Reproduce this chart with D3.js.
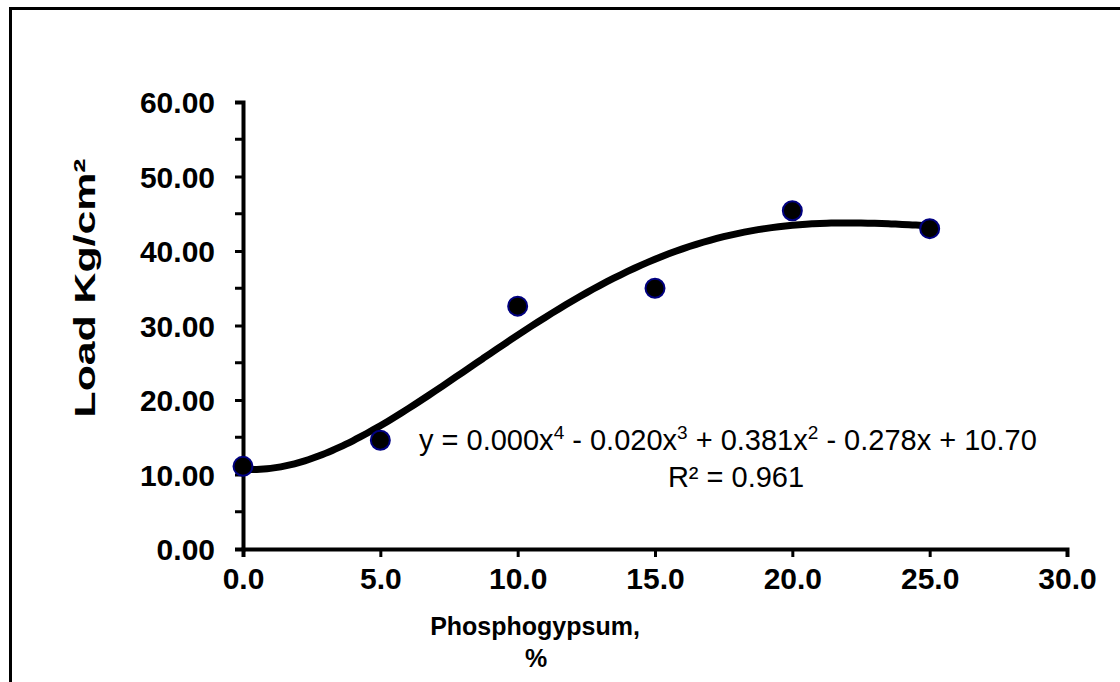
<!DOCTYPE html>
<html>
<head>
<meta charset="utf-8">
<script src="https://cdn.jsdelivr.net/npm/d3@7"></script>
<style>
  body { margin: 0; background: #fff; }
  svg { display: block; }
  text { font-family: "Liberation Sans", Arial, sans-serif; }
</style>
</head>
<body>
<div id="chart"></div>
<script>
var phosphogypsum = [0, 5, 10, 15, 20, 25];
var load = [11.1, 14.6, 32.6, 35.0, 45.4, 43.0];
var xTicks = [0, 5, 10, 15, 20, 25, 30];
var yTicks = [0, 10, 20, 30, 40, 50, 60];
var yMinorTicks = [5, 15, 25, 35, 45, 55];
var equationText = ["y = 0.000x", "4", " - 0.020x", "3", " + 0.381x", "2", " - 0.278x + 10.70"];
var r2Text = "R² = 0.961";

// least squares polynomial (order 4), like the Excel trendline
function polyFit(xs, ys, order) {
    var n = order + 1;
    var A = [], b = [];
    for (var i = 0; i < n; i++) {
        A.push([]);
        for (var j = 0; j < n; j++) {
            A[i].push(d3.sum(xs, function (x) { return Math.pow(x, i + j); }));
        }
        b.push(d3.sum(xs, function (x, k) { return ys[k] * Math.pow(x, i); }));
    }
    for (var c = 0; c < n; c++) {
        var p = c;
        for (var r = c + 1; r < n; r++) if (Math.abs(A[r][c]) > Math.abs(A[p][c])) p = r;
        var t = A[c]; A[c] = A[p]; A[p] = t;
        var tb = b[c]; b[c] = b[p]; b[p] = tb;
        for (var r2 = c + 1; r2 < n; r2++) {
            var f = A[r2][c] / A[c][c];
            for (var k = c; k < n; k++) A[r2][k] -= f * A[c][k];
            b[r2] -= f * b[c];
        }
    }
    var coef = new Array(n).fill(0);
    for (var i2 = n - 1; i2 >= 0; i2--) {
        var s = b[i2];
        for (var j2 = i2 + 1; j2 < n; j2++) s -= A[i2][j2] * coef[j2];
        coef[i2] = s / A[i2][i2];
    }
    return coef;
}

function init() {
    var w = 1120, h = 682;
    var svg = d3.select("#chart").append("svg")
        .attr("width", w).attr("height", h);

    // outer frame (right / bottom run off the picture)
    svg.append("rect")
        .attr("x", 10.5).attr("y", 8.5)
        .attr("width", 1200).attr("height", 800)
        .attr("fill", "#fff")
        .attr("stroke", "#000").attr("stroke-width", 3);

    var xScale = d3.scaleLinear().domain([0, 30]).range([243, 1067]);
    var yScale = d3.scaleLinear().domain([0, 60]).range([549, 102]);

    var xAxis = d3.axisBottom(xScale).tickValues(xTicks)
        .tickSize(8).tickPadding(10)
        .tickFormat(d3.format(".1f"));
    var yAxis = d3.axisLeft(yScale).tickValues(yTicks)
        .tickSize(8).tickPadding(20)
        .tickFormat(d3.format(".2f"));

    var gx = svg.append("g").attr("transform", "translate(0,549)").call(xAxis);
    var gy = svg.append("g").attr("transform", "translate(243,0)").call(yAxis);

    svg.append("g").attr("transform", "translate(243,0)")
        .selectAll("line").data(yMinorTicks).enter().append("line")
        .attr("x1", -8).attr("x2", 0)
        .attr("y1", function (d) { return yScale(d); })
        .attr("y2", function (d) { return yScale(d); })
        .attr("stroke", "#000").attr("stroke-width", 3);

    [gx, gy].forEach(function (g) {
        g.select(".domain").attr("stroke", "#000").attr("stroke-width", 4);
        g.selectAll(".tick line").attr("stroke", "#000").attr("stroke-width", 3);
        g.selectAll(".tick text")
            .attr("fill", "#000")
            .style("font-family", "'Liberation Sans', Arial, sans-serif")
            .style("font-size", "30px")
            .style("font-weight", "bold");
    });
    gy.selectAll(".tick text").attr("dy", "0.35em");
    gx.selectAll(".tick text").attr("dy", "0.72em");

    // trendline
    var coef = polyFit(phosphogypsum, load, 4);
    var curvePts = d3.range(0, 25.01, 0.25).map(function (x) {
        return [x, coef.reduce(function (s, c, i) { return s + c * Math.pow(x, i); }, 0)];
    });
    var line = d3.line()
        .x(function (d) { return xScale(d[0]); })
        .y(function (d) { return yScale(d[1]); })
        .curve(d3.curveBasis);
    svg.append("path").datum(curvePts)
        .attr("d", line)
        .attr("fill", "none").attr("stroke", "#000")
        .attr("stroke-width", 7).attr("stroke-linecap", "round");

    // points
    svg.selectAll("circle.pt")
        .data(phosphogypsum).enter().append("circle")
        .attr("class", "pt")
        .attr("cx", function (d) { return xScale(d); })
        .attr("cy", function (d, i) { return yScale(load[i]); })
        .attr("r", 9.5)
        .attr("fill", "#000")
        .attr("stroke", "#000080").attr("stroke-width", 2);

    // equation labels
    var eq = svg.append("text")
        .attr("x", 419).attr("y", 450)
        .style("font-size", "29px");
    equationText.forEach(function (s, i) {
        var t = eq.append("tspan").text(s);
        if (i % 2 === 1) t.attr("dy", -11).style("font-size", "19px");
        else if (i > 0) t.attr("dy", 11);
    });
    svg.append("text")
        .attr("x", 736).attr("y", 487)
        .attr("text-anchor", "middle")
        .style("font-size", "29px")
        .text(r2Text);

    // axis titles
    svg.append("text")
        .attr("transform", "translate(95,288) rotate(-90)")
        .attr("text-anchor", "middle")
        .attr("textLength", 259)
        .attr("lengthAdjust", "spacingAndGlyphs")
        .style("font-size", "30px").style("font-weight", "bold")
        .text("Load Kg/cm²");

    svg.append("text")
        .attr("x", 535).attr("y", 635)
        .attr("text-anchor", "middle")
        .style("font-size", "25px").style("font-weight", "bold")
        .text("Phosphogypsum,");
    svg.append("text")
        .attr("x", 536).attr("y", 667)
        .attr("text-anchor", "middle")
        .style("font-size", "25px").style("font-weight", "bold")
        .text("%");
}

window.onload = init;
</script>
</body>
</html>
